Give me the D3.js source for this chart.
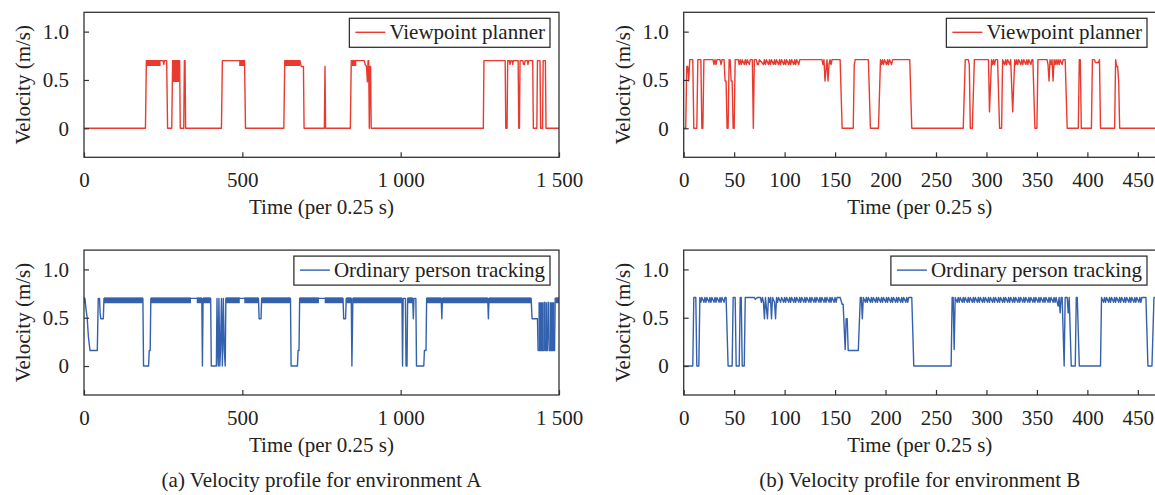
<!DOCTYPE html>
<html>
<head>
<meta charset="utf-8">
<script src="https://cdn.jsdelivr.net/npm/d3@7"></script>
<style>
  body { margin: 0; background: #fff; }
  text { font-family: "Liberation Serif", "Times New Roman", serif; fill: #222; }
</style>
</head>
<body>
<svg id="chart" width="1155" height="495"></svg>
<script>
// ---- data: [time step, velocity m/s] ----
const ticksA = [0, 500, 1000, 1500];
const ticksB = [0, 50, 100, 150, 200, 250, 300, 350, 400, 450];
const ticksY = [0, 0.5, 1.0];

// environment A, viewpoint planner
const redA = [
  [0, 0], [194, 0], [197, .7], [250, .7], [252, .66], [254, .7], [261, .7], [264, 0],
  [277, 0], [280, .7], [302, .7], [304, 0], [315, 0], [317, .7], [319, .7], [321, 0],
  [434, 0], [437, .7], [507, .7], [510, 0], [631, 0], [634, .7], [682, .7], [686, .64],
  [693, .64], [695, 0], [759, 0], [761, .64], [763, 0], [841, 0], [844, .7], [885, .7],
  [888, .66], [892, .64], [895, .48], [897, .7], [899, .7], [901, 0], [903, .64], [905, .64],
  [907, 0], [1261, 0], [1263, .7], [1330, .7], [1332, 0], [1336, 0], [1338, .7], [1343, .7],
  [1345, .66], [1348, .7], [1352, .7], [1354, .66], [1356, .7], [1371, .7], [1373, 0],
  [1375, 0], [1377, .7], [1386, .7], [1388, .66], [1391, .66], [1393, .7], [1400, .7],
  [1402, .66], [1404, .7], [1417, .7], [1419, 0], [1430, 0], [1432, .7], [1440, .7],
  [1442, 0], [1448, 0], [1450, .7], [1457, .7], [1459, 0], [1500, 0]
];
// dense oscillation regions: [from, to, low, high]
const redABands = [
  [197, 242, .645, .705], [280, 302, .48, .705], [490, 507, .645, .705],
  [634, 682, .645, .705], [846, 860, .645, .705]
];

// environment A, ordinary person tracking
const blueA = [
  [0, .7], [3, .7], [6, .6], [10, .5], [14, .3], [19, .16], [42, .16], [45, .7], [49, .7],
  [51, .55], [53, .49], [61, .49], [63, .7], [186, .7], [188, 0], [204, 0], [206, .16],
  [209, .16], [211, .7], [372, .7], [374, 0], [376, .7], [400, .7], [402, 0], [418, 0],
  [420, .7], [422, .16], [424, 0], [426, .7], [429, 0], [431, .16], [434, .7], [437, 0],
  [440, .7], [443, .16], [446, 0], [448, .7], [551, .7], [553, .49], [559, .49], [561, .7],
  [652, .7], [654, 0], [674, 0], [676, .16], [679, .16], [681, .7], [818, .7], [820, .49],
  [826, .49], [828, .7], [844, .7], [846, 0], [849, .7], [1004, .7], [1006, 0], [1008, .7],
  [1015, .7], [1017, 0], [1020, 0], [1022, .7], [1038, .7], [1040, .49], [1042, .7],
  [1048, .7], [1050, 0], [1073, 0], [1075, .16], [1080, .16], [1082, .7], [1128, .7],
  [1130, .49], [1132, .7], [1275, .7], [1277, .49], [1279, .7], [1412, .7], [1415, .49],
  [1432, .49], [1434, .16], [1453, .16], [1455, .66], [1457, .16], [1463, .16], [1466, .66],
  [1469, .16], [1486, .16], [1488, .7], [1500, .7]
];
const blueABands = [
  [0, 3, .65, .71], [63, 186, .65, .71], [211, 338, .65, .71], [356, 372, .65, .71],
  [376, 400, .65, .71], [448, 492, .65, .71], [506, 551, .65, .71], [561, 652, .65, .71],
  [681, 742, .65, .71], [760, 818, .65, .71], [828, 844, .65, .71], [849, 1004, .65, .71],
  [1022, 1038, .65, .71], [1082, 1128, .65, .71], [1132, 1275, .65, .71],
  [1279, 1412, .65, .71], [1488, 1500, .65, .71],
  [1435, 1452, .16, .66], [1457, 1463, .16, .66], [1470, 1486, .16, .66]
];

// environment B, viewpoint planner
const redB = [
  [0, 0], [2, 0], [3, .64], [4, .64], [5, .49], [6, .71], [9, .71], [10, 0], [13, 0], [14, .71],
  [17, .71], [18, 0], [19, 0], [20, .71], [29, .71], [30, .66], [31, .71], [32, .66], [33, .71],
  [36, .71], [37, .66], [38, .71], [40, .71], [41, .49], [42, .49], [43, 0], [44, 0], [45, .71],
  [46, .71], [47, .49], [48, .49], [49, 0], [50, 0], [51, .71], [54, .71], [55, .66], [56, .71],
  [57, .66], [58, .71], [60, .66], [61, .71], [62, .66], [63, .71], [65, .66], [66, .71],
  [68, .71], [69, 0], [70, .71], [72, .71], [73, .66], [74, .66], [75, .71], [79, .66],
  [80, .71], [81, .66], [82, .71], [84, .66], [85, .71], [86, .66], [87, .71], [89, .66],
  [90, .71], [91, .66], [92, .71], [94, .66], [95, .71], [96, .66], [97, .71], [99, .66],
  [100, .71], [101, .66], [102, .71], [104, .66], [105, .71], [106, .66], [107, .71],
  [109, .66], [110, .71], [111, .66], [112, .71], [114, .66], [115, .71], [117, .71],
  [137, .71], [138, .66], [139, .71], [140, .49], [141, .6], [142, .71], [143, .49],
  [144, .66], [145, .71], [146, .66], [147, .71], [155, .71], [157, 0], [168, 0], [169, .66],
  [170, .71], [183, .71], [185, 0], [193, 0], [195, .71], [196, .66], [197, .71], [198, .66],
  [199, .71], [201, .66], [202, .71], [203, .66], [204, .71], [206, .66], [207, .71],
  [224, .71], [226, 0], [277, 0], [279, .71], [282, .71], [283, .66], [284, 0], [286, 0],
  [288, .71], [302, .71], [303, .17], [305, .71], [306, .66], [307, .71], [308, .66],
  [309, .71], [311, .71], [313, 0], [315, 0], [316, .71], [318, .66], [319, .71], [320, .66],
  [321, .71], [323, .66], [324, .71], [326, .17], [328, .71], [329, .66], [330, .71],
  [331, .66], [332, .71], [334, .66], [335, .71], [336, .66], [337, .71], [339, .66],
  [340, .71], [341, .66], [342, .71], [344, .66], [345, .71], [346, .71], [348, 0], [350, 0],
  [351, .71], [360, .71], [361, .66], [362, .49], [363, .71], [364, .66], [365, .71],
  [366, .49], [367, .71], [368, .66], [369, .71], [370, .66], [371, .71], [372, .66],
  [373, .71], [375, .66], [376, .71], [378, .71], [380, 0], [391, 0], [392, .71], [393, .71],
  [394, 0], [404, 0], [405, .71], [407, .71], [408, .68], [411, .68], [412, .71], [413, 0],
  [427, 0], [428, .71], [429, .64], [430, .64], [431, .49], [432, 0], [468, 0]
];

// environment B, ordinary person tracking
const blueB = [
  [0, 0], [9, 0], [10, .71], [12, .71], [13, 0], [15, 0], [16, .71], [17, .66], [18, .71],
  [20, .66], [21, .71], [22, .66], [23, .71], [25, .66], [26, .71], [27, .66], [28, .71],
  [30, .66], [31, .71], [32, .66], [33, .71], [35, .66], [36, .71], [37, .66], [38, .71],
  [40, .66], [41, .71], [42, .71], [44, 0], [48, 0], [49, .71], [51, .71], [52, 0], [55, 0],
  [56, .71], [57, .71], [58, 0], [60, 0], [61, .71], [70, .71], [71, .69], [73, .71],
  [76, .71], [77, .66], [78, .71], [79, .66], [80, .49], [81, .71], [83, .49], [84, .71],
  [85, .66], [86, .71], [87, .49], [88, .71], [90, .66], [91, .49], [92, .71], [93, .66],
  [94, .71], [96, .66], [97, .71], [99, .66], [100, .71], [101, .66], [102, .71], [104, .66],
  [105, .71], [106, .66], [107, .71], [109, .66], [110, .71], [111, .66], [112, .71],
  [114, .66], [115, .71], [116, .66], [117, .71], [119, .66], [120, .71], [121, .66],
  [122, .71], [124, .66], [125, .71], [126, .66], [127, .71], [129, .66], [130, .71],
  [131, .66], [132, .71], [134, .66], [135, .71], [136, .66], [137, .71], [139, .66],
  [140, .71], [141, .66], [142, .71], [144, .66], [145, .71], [146, .66], [147, .71],
  [149, .66], [150, .71], [151, .66], [152, .71], [155, .71], [157, .64], [158, .64],
  [160, .17], [161, .49], [162, .49], [163, .16], [173, .16], [175, .71], [176, .71],
  [177, .49], [178, .71], [180, .66], [181, .71], [182, .66], [183, .71], [185, .66],
  [186, .71], [187, .66], [188, .71], [190, .66], [191, .71], [192, .66], [193, .71],
  [195, .66], [196, .71], [197, .66], [198, .71], [200, .66], [201, .71], [202, .66],
  [203, .71], [205, .66], [206, .71], [207, .66], [208, .71], [210, .66], [211, .71],
  [212, .66], [213, .71], [215, .66], [216, .71], [217, .66], [218, .71], [220, .66],
  [221, .71], [222, .66], [223, .71], [226, .71], [228, 0], [265, 0], [266, .71], [267, .71],
  [268, .17], [269, .71], [271, .66], [272, .71], [273, .66], [274, .71], [276, .66],
  [277, .71], [278, .66], [279, .71], [281, .66], [282, .71], [283, .66], [284, .71],
  [286, .66], [287, .71], [288, .66], [289, .71], [291, .66], [292, .71], [293, .66],
  [294, .71], [296, .66], [297, .71], [298, .66], [299, .71], [301, .66], [302, .71],
  [303, .66], [304, .71], [306, .66], [307, .71], [308, .66], [309, .71], [311, .66],
  [312, .71], [313, .66], [314, .71], [316, .66], [317, .71], [318, .66], [319, .71],
  [321, .66], [322, .71], [323, .66], [324, .71], [326, .66], [327, .71], [328, .66],
  [329, .71], [331, .66], [332, .71], [333, .66], [334, .71], [336, .66], [337, .71],
  [338, .66], [339, .71], [341, .66], [342, .71], [343, .66], [344, .71], [346, .66],
  [347, .71], [348, .66], [349, .71], [351, .66], [352, .71], [353, .66], [354, .71],
  [356, .66], [357, .71], [358, .66], [359, .71], [361, .66], [362, .71], [363, .66],
  [364, .71], [366, .66], [367, .71], [368, .66], [369, .71], [371, .62], [372, .71],
  [373, .55], [374, .71], [375, .71], [377, 0], [378, .71], [380, .71], [381, .55],
  [382, .71], [384, 0], [388, 0], [389, .71], [390, .71], [392, 0], [413, 0], [414, .71],
  [416, .66], [417, .71], [418, .66], [419, .71], [421, .66], [422, .71], [423, .66],
  [424, .71], [426, .66], [427, .71], [428, .66], [429, .71], [431, .66], [432, .71],
  [433, .66], [434, .71], [436, .66], [437, .71], [438, .66], [439, .71], [441, .66],
  [442, .71], [443, .66], [444, .71], [446, .66], [447, .71], [448, .66], [449, .71],
  [451, .66], [452, .71], [453, .66], [454, .71], [458, .71], [460, 0], [464, 0],
  [466, .71], [468, .71]
];

const RED = "#ea3a2f";
const BLUE = "#3461ad";
const FRAME = "#333";
const FS = 21;

const svg = d3.select("#chart");
const fmtA = d3.formatLocale({ decimal: ".", thousands: " ", grouping: [3], currency: ["", ""] }).format(",");

const panels = [
  { id: "a1", left: 84, right: 559, top: 12.3, bottom: 157.3, domain: [0, 1500], ticks: ticksA, fmt: fmtA,
    data: redA, bands: redABands, color: RED, label: "Viewpoint planner" },
  { id: "a2", left: 84, right: 559, top: 250.1, bottom: 395, domain: [0, 1500], ticks: ticksA, fmt: fmtA,
    data: blueA, bands: blueABands, color: BLUE, label: "Ordinary person tracking" },
  { id: "b1", left: 683.7, right: 1156, top: 12.3, bottom: 157.3, domain: [0, 468], ticks: ticksB, fmt: d => d,
    data: redB, bands: [], color: RED, label: "Viewpoint planner" },
  { id: "b2", left: 683.7, right: 1156, top: 250.1, bottom: 395, domain: [0, 468], ticks: ticksB, fmt: d => d,
    data: blueB, bands: [], color: BLUE, label: "Ordinary person tracking" }
];

function drawPanel(p) {
  const x = d3.scaleLinear().domain(p.domain).range([p.left, p.right]);
  const y = d3.scaleLinear().domain([-0.3, 1.2]).range([p.bottom, p.top]);

  svg.append("clipPath").attr("id", "clip-" + p.id)
    .append("rect")
    .attr("x", p.left).attr("y", p.top)
    .attr("width", p.right - p.left).attr("height", p.bottom - p.top);

  const g = svg.append("g").attr("clip-path", "url(#clip-" + p.id + ")");

  // dense oscillation drawn as filled bands
  const area = d3.area()
    .x(d => x(d[0]))
    .y0(d => y(d[1]))
    .y1(d => y(d[2]));
  g.selectAll(".band")
    .data(p.bands)
    .enter()
    .append("path")
    .attr("class", "band")
    .attr("d", b => area([[b[0], b[2], b[3]], [b[1], b[2], b[3]]]))
    .attr("fill", p.color);

  const line = d3.line().x(d => x(d[0])).y(d => y(d[1]));
  g.append("path")
    .datum(p.data)
    .attr("d", line)
    .attr("fill", "none")
    .attr("stroke", p.color)
    .attr("stroke-width", 1.4)
    .attr("stroke-linejoin", "round");

  // axes with inward ticks
  const xAxis = svg.append("g")
    .attr("transform", `translate(0,${p.bottom})`)
    .call(d3.axisBottom(x).tickValues(p.ticks).tickFormat(p.fmt).tickSize(-5).tickSizeOuter(0).tickPadding(15));
  const yAxis = svg.append("g")
    .attr("transform", `translate(${p.left},0)`)
    .call(d3.axisLeft(y).tickValues(ticksY)
      .tickFormat(d => d === 0 ? "0" : d3.format(".1f")(d))
      .tickSize(-5).tickSizeOuter(0).tickPadding(15));

  [xAxis, yAxis].forEach(a => {
    a.attr("font-family", null).attr("font-size", FS);
    a.select(".domain").remove();
    a.selectAll(".tick line").attr("stroke", FRAME).attr("stroke-width", 1.2);
    a.selectAll(".tick text").attr("fill", "#222");
  });

  // frame
  svg.append("rect")
    .attr("x", p.left).attr("y", p.top)
    .attr("width", p.right - p.left).attr("height", p.bottom - p.top)
    .attr("fill", "none")
    .attr("stroke", FRAME)
    .attr("stroke-width", 1.3);

  // axis titles
  svg.append("text")
    .attr("x", (p.left + p.right) / 2)
    .attr("y", p.bottom + 57)
    .attr("text-anchor", "middle")
    .attr("font-size", FS)
    .text("Time (per 0.25 s)");

  svg.append("text")
    .attr("transform", `translate(${p.left - 61},${(p.top + p.bottom) / 2}) rotate(-90)`)
    .attr("text-anchor", "middle")
    .attr("dy", "0.35em")
    .attr("font-size", FS)
    .text("Velocity (m/s)");

  // legend
  const legend = svg.append("g");
  const lt = legend.append("text")
    .attr("font-size", FS)
    .text(p.label);
  const tw = lt.node().getComputedTextLength();
  const boxW = 6 + 30 + 4 + tw + 5;
  const bx = p.right - 9 - boxW;
  const by = p.top + 6;
  legend.insert("rect", "text")
    .attr("x", bx).attr("y", by)
    .attr("width", boxW).attr("height", 29)
    .attr("fill", "#fff")
    .attr("stroke", FRAME)
    .attr("stroke-width", 1.3);
  legend.append("line")
    .attr("x1", bx + 6).attr("x2", bx + 36)
    .attr("y1", by + 14).attr("y2", by + 14)
    .attr("stroke", p.color)
    .attr("stroke-width", 1.4);
  lt.attr("x", bx + 40).attr("y", by + 21);
}

panels.forEach(drawPanel);

// sub-figure captions
const captions = [
  { text: "(a) Velocity profile for environment A", cx: (84 + 559) / 2 },
  { text: "(b) Velocity profile for environment B", cx: (683.7 + 1156) / 2 }
];
svg.selectAll(".caption")
  .data(captions)
  .enter()
  .append("text")
  .attr("class", "caption")
  .attr("x", d => d.cx)
  .attr("y", 487)
  .attr("text-anchor", "middle")
  .attr("font-size", FS)
  .text(d => d.text);
</script>
</body>
</html>
